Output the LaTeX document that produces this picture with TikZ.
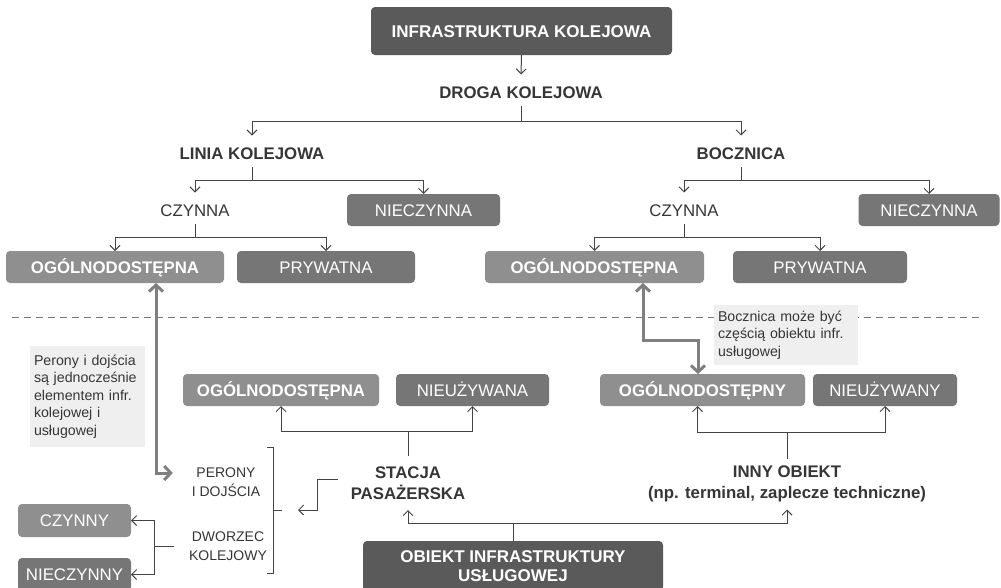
\documentclass[tikz,border=0pt]{standalone}
\usepackage{fontspec}
\setmainfont{Liberation Sans}
\usetikzlibrary{arrows.meta,calc}
\definecolor{cdark}{HTML}{5A5A5A}
\definecolor{cmid}{HTML}{767676}
\definecolor{clight}{HTML}{8F8F8F}
\definecolor{cline}{HTML}{444444}
\definecolor{ctext}{HTML}{363636}
\definecolor{cnote}{HTML}{EFEFEF}
\definecolor{cthick}{HTML}{7F7F7F}
\definecolor{cdash}{HTML}{777777}
\begin{document}
\begin{tikzpicture}[x=1pt,y=-1pt,
  box/.style={rounded corners=4pt, inner sep=0pt, outer sep=0pt, text=white,
    font=\fontsize{16.8}{20}\selectfont, text height=12pt, text depth=0pt},
  boxd/.style={box, fill=cdark, font=\fontsize{17}{19}\selectfont\bfseries},
  boxm/.style={box, fill=cmid},
  boxl/.style={box, fill=clight, font=\fontsize{16.8}{20}\selectfont\bfseries},
  lbl/.style={inner sep=0pt, outer sep=0pt, text=ctext, font=\fontsize{16.8}{20}\selectfont,
    anchor=base, text height=23.5pt, text depth=8pt},
  lblb/.style={lbl, font=\fontsize{16.8}{20}\selectfont\bfseries},
  mlbl/.style={inner sep=0pt, outer sep=0pt, text=ctext, align=center,
    font=\fontsize{16.8}{21}\selectfont\bfseries},
  slbl/.style={inner sep=0pt, outer sep=0pt, text=ctext, align=center,
    font=\fontsize{14}{19}\selectfont},
  conn/.style={draw=cline, line width=1pt},
  arr/.style={conn, -{Straight Barb[length=5pt,width=10pt]}},
  thickarr/.style={draw=cthick, line width=3pt,
    {Straight Barb[length=6.5pt,width=14pt]}-{Straight Barb[length=6.5pt,width=14pt]}},
  note/.style={fill=cnote, inner sep=0pt, inner xsep=4pt, text=ctext,
    font=\fontsize{14.2}{17.5}\selectfont, align=left},
]
\useasboundingbox (0,0) rectangle (1001,587);
\clip (0,0) rectangle (1001,587);
\fill[white] (0,0) rectangle (1001,587);

% top tree
\node[boxd, minimum width=301pt, minimum height=48pt] (infra) at (521.5,31) {INFRASTRUKTURA KOLEJOWA};
\node[lblb] (droga) at (521,98) {DROGA KOLEJOWA};
\node[lblb] (linia) at (252,159) {LINIA KOLEJOWA};
\node[lblb] (bocz) at (741,159) {BOCZNICA};
\node[lbl] (czyn1) at (195,216) {CZYNNA};
\node[lbl] (czyn2) at (684,216) {CZYNNA};
\node[boxm, minimum width=153pt, minimum height=32pt] (niecz1) at (423.5,210) {NIECZYNNA};
\node[boxm, minimum width=141pt, minimum height=32pt] (niecz2) at (929,210) {NIECZYNNA};
\node[boxl, minimum width=218pt, minimum height=32pt] (ogl1) at (115,267) {OGÓLNODOSTĘPNA};
\node[boxm, minimum width=178pt, minimum height=32pt] (pryw1) at (326,267) {PRYWATNA};
\node[boxl, minimum width=219pt, minimum height=32pt] (ogl2) at (594.5,267) {OGÓLNODOSTĘPNA};
\node[boxm, minimum width=174pt, minimum height=32pt] (pryw2) at (820,267) {PRYWATNA};

\draw[arr] (infra.south) -- (droga.north);
\draw[conn] (droga.south) -- ++(0,15) coordinate (dj);
\draw[arr] (dj) -| (linia.north);
\draw[arr] (dj) -| (bocz.north);
\draw[conn] (linia.south) -- ++(0,13) coordinate (lj);
\draw[arr] (lj) -| (czyn1.north);
\draw[arr] (lj) -| (niecz1.north);
\draw[conn] (bocz.south) -- ++(0,13) coordinate (bj);
\draw[arr] (bj) -| (czyn2.north);
\draw[arr] (bj) -| (niecz2.north);
\draw[conn] (czyn1.south) -- ++(0,13) coordinate (c1j);
\draw[arr] (c1j) -| (ogl1.north);
\draw[arr] (c1j) -| (pryw1.north);
\draw[conn] (czyn2.south) -- ++(0,13) coordinate (c2j);
\draw[arr] (c2j) -| (ogl2.north);
\draw[arr] (c2j) -| (pryw2.north);

% separator
\draw[cdash, line width=1pt, dash pattern=on 7pt off 5pt] (12,317) -- (982,317);

% notes
\node[note, text width=107pt, minimum height=101pt] (note1) at (87.5,396.5)
  {Perony i dojścia\\są jednocześnie\\elementem infr.\\kolejowej i\\usługowej};
\node[note, text width=136pt, minimum height=60pt] (note2) at (786,335)
  {Bocznica może być\\częścią obiektu infr.\\usługowej};

% middle
\node[boxl, minimum width=196pt, minimum height=32pt] (ogl3) at (281,390) {OGÓLNODOSTĘPNA};
\node[boxm, minimum width=153pt, minimum height=32pt] (nieuz1) at (472.5,390) {NIEUŻYWANA};
\node[boxl, minimum width=205pt, minimum height=32pt] (ogl4) at (702.5,390) {OGÓLNODOSTĘPNY};
\node[boxm, minimum width=144pt, minimum height=32pt] (nieuz2) at (885,390) {NIEUŻYWANY};

\node[mlbl, minimum height=54pt] (stacja) at (408,483) {STACJA\\PASAŻERSKA};
\node[mlbl, minimum height=51pt] (inny) at (787,484) {INNY OBIEKT\\(np. terminal, zaplecze techniczne)};
\node[slbl, outer xsep=19pt] (perony) at (226,482.5) {PERONY\\I DOJŚCIA};
\node[slbl, outer xsep=15pt] (dworzec) at (228,546) {DWORZEC\\KOLEJOWY};

\node[boxl, minimum width=113pt, minimum height=33pt, font=\fontsize{16.8}{20}\selectfont] (czynny) at (74.5,520.5) {CZYNNY};
\node[boxm, minimum width=113pt, minimum height=33pt] (nieczynny) at (74.5,574.5) {NIECZYNNY};
\node[boxd, minimum width=300pt, minimum height=50pt, text height=, text depth=, align=center] (obiekt) at (513,566) {OBIEKT INFRASTRUKTURY\\USŁUGOWEJ};

\draw[conn] (stacja.north) -- ++(0,-25) coordinate (sj);
\draw[arr] (sj) -| (ogl3.south);
\draw[arr] (sj) -| (nieuz1.south);
\draw[conn] (inny.north) -- ++(0,-26) coordinate (ij);
\draw[arr] (ij) -| ([xshift=-5pt]ogl4.south);
\draw[arr] (ij) -| (nieuz2.south);
\draw[conn] (obiekt.north) -- ++(0,-18) coordinate (oj);
\draw[arr] (oj) -| (stacja.south);
\draw[arr] (oj) -| (inny.south);

% brace
\draw[conn] (267,447) -- (273,447) -- (273,573) -- (267,573);
\draw[conn] (273,510) -- (282,510);
\coordinate (braceTip) at (298,510);
\draw[arr] ([xshift=-13pt,yshift=4pt]stacja.west) -- ++(-20,0) |- (braceTip);

% dworzec branches
\draw[conn] (dworzec.west) -- ++(-20,0) coordinate (dwj);
\draw[arr] (dwj) |- (czynny.east);
\draw[arr] (dwj) |- (nieczynny.east);

% thick arrows
\draw[thickarr] ([xshift=41pt]ogl1.south) |- ([yshift=9.5pt]perony.west);
\draw[thickarr] ([xshift=48.5pt]ogl2.south) -- ++(0,57) -| ([xshift=-4.5pt]ogl4.north);
\end{tikzpicture}
\end{document}
